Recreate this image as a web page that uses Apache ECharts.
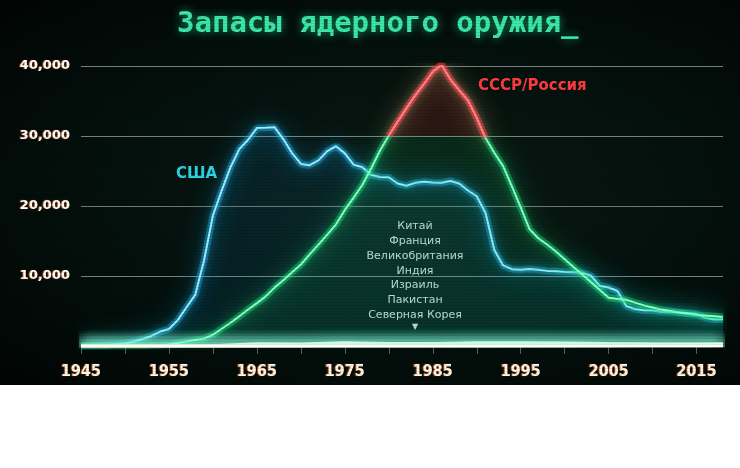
<!DOCTYPE html>
<html>
<head>
<meta charset="utf-8">
<title>Запасы ядерного оружия</title>
<script src="https://cdn.jsdelivr.net/npm/echarts@6/dist/echarts.min.js"></script>
<style>
  html, body { margin: 0; padding: 0; background: #fff; }
  #wrap {
    position: relative; width: 740px; height: 385px; overflow: hidden;
    background: radial-gradient(ellipse at 55% 50%, #0a1a14 0%, #04100c 55%, #010504 100%);
  }
  #chart { width: 740px; height: 385px; }
  #scan {
    position: absolute; left: 0; top: 0; width: 100%; height: 100%; pointer-events: none;
    background: repeating-linear-gradient(to bottom, rgba(0,0,0,0) 0px, rgba(0,0,0,0) 2px, rgba(0,0,0,0.16) 3px);
  }
</style>
</head>
<body>
<div id="wrap">
  <div id="chart"></div>
  <div id="scan"></div>
</div>
<script>
// годы для США и СССР
var years = [1945,1946,1947,1948,1949,1950,1951,1952,1953,1954,1955,1956,1957,1958,1959,
  1960,1961,1962,1963,1964,1965,1966,1967,1968,1969,1970,1971,1972,1973,1974,
  1975,1976,1977,1978,1979,1980,1981,1982,1983,1984,1985,1986,1987,1988,1989,
  1990,1991,1992,1993,1994,1995,1996,1997,1998,1999,2000,2001,2002,2003,2004,
  2005,2006,2007,2008,2009,2010,2011,2012,2013,2014,2015,2016,2017,2018];

var usa = [6,11,32,110,235,369,640,1005,1436,2063,2422,3692,5543,7345,12298,
  18638,22229,25540,28133,29463,31139,31175,31255,29561,27552,26008,25830,26516,27835,28537,
  27519,25914,25542,24418,24138,24104,23208,22886,23305,23459,23368,23317,23575,23205,22217,
  21392,19008,13708,11511,10979,10904,11011,10903,10732,10685,10577,10526,10457,10027,8570,
  8360,7853,5709,5273,5113,5066,4897,4881,4804,4717,4571,4018,3800,3800];

var ussr = [0,0,0,0,1,5,25,50,120,150,200,426,660,869,1060,
  1605,2471,3322,4238,5221,6129,7089,8339,9399,10538,11643,13092,14478,15915,17385,
  19443,21205,23044,25393,27935,30062,32049,33952,35804,37431,39197,40159,38107,36538,35078,
  32600,29700,27600,25700,22800,19800,16700,15400,14500,13500,12400,11300,10200,9100,8000,
  6900,6700,6600,6200,5800,5500,5200,5000,4800,4600,4450,4350,4250,4150];

// остальные страны, шаг 5 лет
var yearsOther = [1945,1950,1955,1960,1965,1970,1975,1980,1985,1990,1995,2000,2005,2010,2015,2018];
var others = ['Китай','Франция','Великобритания','Индия','Израиль','Пакистан','Северная Корея'];
var china    = [0,0,0,0,5,75,185,280,243,232,234,232,235,240,260,280];
var france   = [0,0,0,0,32,36,188,250,360,505,500,470,350,300,300,300];
var uk       = [0,0,10,30,310,280,492,350,350,300,280,280,280,225,215,215];
var india    = [0,0,0,0,0,0,0,0,0,0,0,20,50,80,110,130];
var israel   = [0,0,0,0,0,13,20,31,42,53,63,72,80,80,80,80];
var pakistan = [0,0,0,0,0,0,0,0,0,0,0,10,30,90,120,140];
var nkorea   = [0,0,0,0,0,0,0,0,0,0,0,0,0,5,10,15];
var otherValues = [china, france, uk, india, israel, pakistan, nkorea];

function pair(xs, ys) {
  return xs.map(function (x, i) { return [x, ys[i]]; });
}

// участок пика СССР (выше 30 000) - для красного свечения
var ussrPeak = pair(years, ussr).filter(function (p) { return p[0] >= 1980 && p[0] <= 1991; });

// красный выше 30 000, зелёный ниже (сетка: 40 000 -> y=66, 0 -> y=346)
function splitGradient(red, green) {
  return {
    type: 'linear', x: 0, y: 66, x2: 0, y2: 346, global: true,
    colorStops: [
      { offset: 0, color: red }, { offset: 0.25, color: red },
      { offset: 0.25, color: green }, { offset: 1, color: green }
    ]
  };
}

var chart = echarts.init(document.getElementById('chart'));

var series = [
  {
    name: 'США glow', type: 'line', showSymbol: false, silent: true,
    data: pair(years, usa),
    lineStyle: { color: 'rgba(30,185,255,0.38)', width: 7, shadowColor: '#0fa8ff', shadowBlur: 26 },
    areaStyle: { color: 'rgba(20,150,220,0.15)' },
    z: 2
  },
  {
    name: 'США', type: 'line', showSymbol: false,
    data: pair(years, usa),
    lineStyle: { color: '#9eeeff', width: 2, shadowColor: '#2ad0ff', shadowBlur: 10 },
    z: 3
  },
  {
    name: 'СССР glow', type: 'line', showSymbol: false, silent: true,
    data: pair(years, ussr),
    lineStyle: { color: splitGradient('rgba(255,40,50,0.38)', 'rgba(20,230,120,0.38)'), width: 7,
      shadowColor: 'rgba(20,230,130,0.9)', shadowBlur: 26 },
    areaStyle: { color: splitGradient('rgba(255,40,40,0.2)', 'rgba(20,210,110,0.15)') },
    z: 4
  },
  {
    name: 'СССР пик glow', type: 'line', showSymbol: false, silent: true,
    data: ussrPeak,
    lineStyle: { color: 'rgba(255,50,60,0.4)', width: 7, shadowColor: '#ff2030', shadowBlur: 26 },
    z: 5
  },
  {
    name: 'СССР/Россия', type: 'line', showSymbol: false,
    data: pair(years, ussr),
    lineStyle: { color: splitGradient('#ff8088', '#8affc8'), width: 2,
      shadowColor: 'rgba(40,250,150,0.9)', shadowBlur: 10 },
    z: 6
  },
  {
    name: 'СССР пик', type: 'line', showSymbol: false, silent: true,
    data: ussrPeak,
    lineStyle: { color: '#ff8088', width: 2, shadowColor: '#ff3040', shadowBlur: 10 },
    z: 7
  }
];

others.forEach(function (name, i) {
  series.push({
    name: name, type: 'line', showSymbol: false,
    data: pair(yearsOther, otherValues[i]),
    lineStyle: { color: '#fffbf0', width: 3, shadowColor: 'rgba(140,255,225,0.9)', shadowBlur: 14 },
    z: 8
  });
});

var graphics = [
  {
    type: 'text', left: 176, top: 167,
    style: { text: 'США', fill: '#2fd6e6', font: 'bold 15px "DejaVu Sans"',
      shadowColor: 'rgba(20,200,230,0.6)', shadowBlur: 6 }
  },
  {
    type: 'text', left: 478, top: 79,
    style: { text: 'СССР/Россия', fill: '#ff3b3f', font: 'bold 15px "DejaVu Sans"',
      shadowColor: 'rgba(255,40,40,0.6)', shadowBlur: 6 }
  }
];
others.forEach(function (name, i) {
  graphics.push({
    type: 'text', x: 415, y: 226 + i * 14.9,
    style: { text: name, fill: '#e4e4dc', font: '11px "DejaVu Sans"',
      textAlign: 'center', textVerticalAlign: 'middle' }
  });
});
graphics.push({
  type: 'text', x: 415, y: 327,
  style: { text: '▼', fill: '#e4e4dc', font: '8px "DejaVu Sans"',
    textAlign: 'center', textVerticalAlign: 'middle' }
});

chart.setOption({
  animation: false,
  backgroundColor: 'transparent',
  title: {
    text: 'Запасы ядерного оружия_',
    left: 172, top: 5,
    textStyle: {
      color: '#3de6aa', fontFamily: 'DejaVu Sans Mono', fontWeight: 'bold', fontSize: 29,
      textShadowColor: 'rgba(30,220,150,0.7)', textShadowBlur: 10
    }
  },
  grid: { left: 81, right: 17, top: 66, bottom: 39 },
  xAxis: {
    type: 'value', min: 1945, max: 2018, interval: 5, offset: 4,
    axisLine: { show: false },
    axisTick: { show: true, length: 8, lineStyle: { color: 'rgba(190,200,195,0.45)' } },
    splitLine: { show: false },
    axisLabel: {
      margin: 14, showMaxLabel: false,
      formatter: function (v) { return (v - 1945) % 10 === 0 ? String(v) : ''; },
      color: '#fff6e6', fontFamily: 'DejaVu Sans Condensed', fontWeight: 'bold', fontSize: 16,
      textShadowColor: 'rgba(255,120,40,0.8)', textShadowOffsetX: -1, textShadowBlur: 1
    }
  },
  yAxis: {
    type: 'value', min: 0, max: 40000, interval: 10000,
    axisLine: { show: false }, axisTick: { show: false },
    axisLabel: {
      showMinLabel: false, margin: 11,
      formatter: function (v) { return v.toLocaleString('en-US'); },
      color: '#ffffff', fontFamily: 'DejaVu Sans', fontWeight: 'bold', fontSize: 13,
      textShadowColor: 'rgba(255,120,40,0.8)', textShadowOffsetX: -1, textShadowBlur: 1
    },
    splitLine: { showMinLine: false, lineStyle: { color: 'rgba(215,220,210,0.55)', width: 1 } }
  },
  graphic: graphics,
  series: series
});

window.onresize = function () {
  chart.resize();
};
</script>
</body>
</html>
